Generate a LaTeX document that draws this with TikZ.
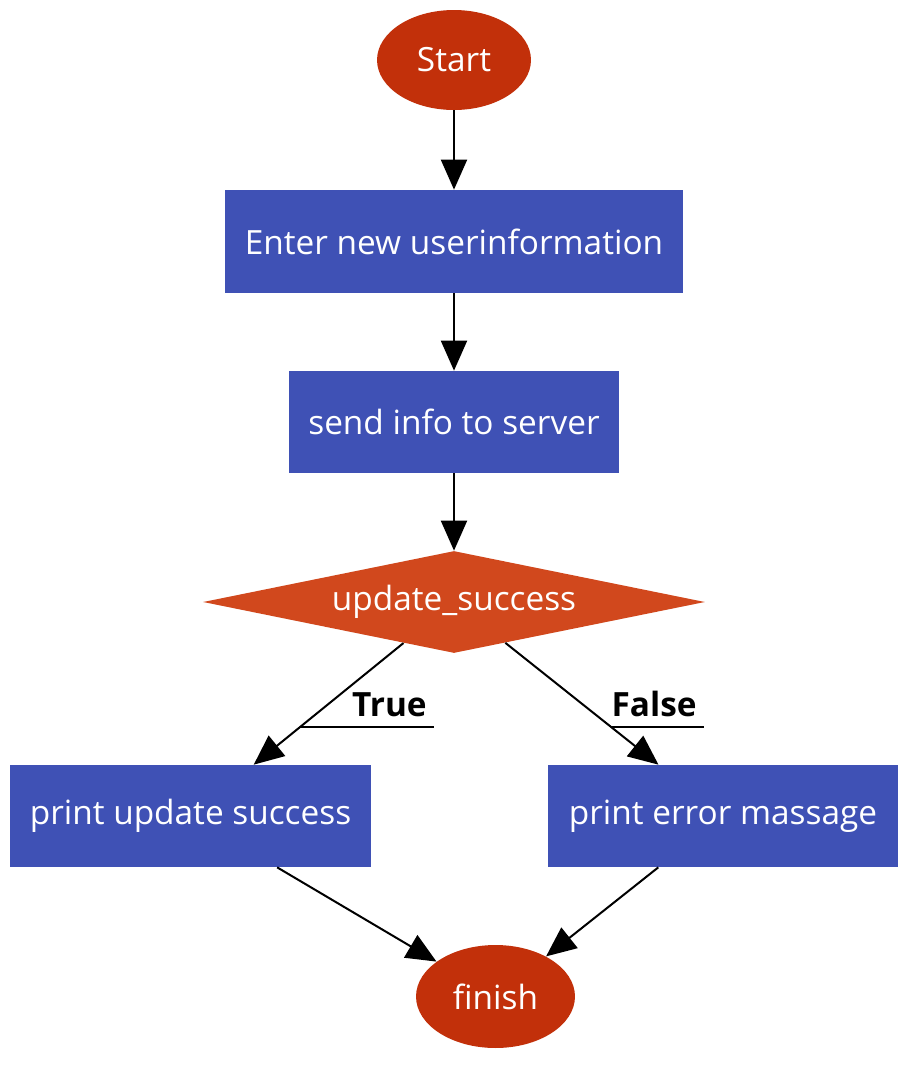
\documentclass[tikz,border=0pt]{standalone}
\usepackage{fontspec}
\setmainfont{Open Sans}
\usetikzlibrary{shapes.geometric, arrows.meta, calc}
\definecolor{termred}{HTML}{C2300A}
\definecolor{procblue}{HTML}{3F51B5}
\definecolor{decorange}{HTML}{D1481D}

\begin{document}
\begin{tikzpicture}[x=0.02cm, y=-0.02cm,
		every node/.style={font=\fontsize{19}{23}\selectfont},
		terminal/.style={ellipse, fill=termred, text=white, inner sep=0pt},
		proc/.style={rectangle, fill=procblue, text=white, inner sep=0pt, minimum height=2.04cm},
		decide/.style={diamond, fill=decorange, text=white, inner sep=0pt, aspect=4.9},
		flow/.style={-{Triangle[length=0.6cm, width=0.52cm]}, line width=0.04cm},
		lbl/.style={font=\fontsize{19}{23}\selectfont\bfseries, inner xsep=0.14cm, inner ysep=0pt}]
	\useasboundingbox (0, 0) rectangle (922, 1072);
	\node[terminal, minimum width=3.08cm, minimum height=2cm] (start) at (454, 60) {Start};
	\node[proc, minimum width=9.16cm, minimum height=2.06cm] (enter) at (454, 241.5) {Enter new userinformation};
	\node[proc, minimum width=6.6cm] (send) at (454, 422) {send info to server};
	\node[decide, minimum width=10.04cm, minimum height=2.04cm] (dec) at (454, 602) {update\_success};
	\node[proc, minimum width=7.22cm] (ok) at (190.5, 816) {print update success};
	\node[proc, minimum width=7cm] (err) at (723, 816) {print error massage};
	\node[terminal, minimum width=3.18cm, minimum height=2.06cm] (finish) at (495.5, 996.5) {finish};

	\draw[flow] (start) -- (enter);
	\draw[flow] (enter) -- (send);
	\draw[flow] (send) -- (dec);
	\draw[flow] (dec) -- (ok);
	\draw[flow] (dec) -- (err);
	\draw[flow] (ok) -- (finish);
	\draw[flow] (err) -- (finish);

	% edge labels, underlined back to the edge
	\coordinate (tl) at ($(dec)!0.584!(ok)$);
	\coordinate (fl) at ($(dec)!0.584!(err)$);
	\node[lbl, anchor=base east] (ltrue) at (434, 716) {True};
	\node[lbl, anchor=base east] (lfalse) at (704, 716) {False};
	\draw[line width=0.04cm] (tl) -- (tl -| ltrue.east);
	\draw[line width=0.04cm] (fl) -- (fl -| lfalse.east);
\end{tikzpicture}
\end{document}
